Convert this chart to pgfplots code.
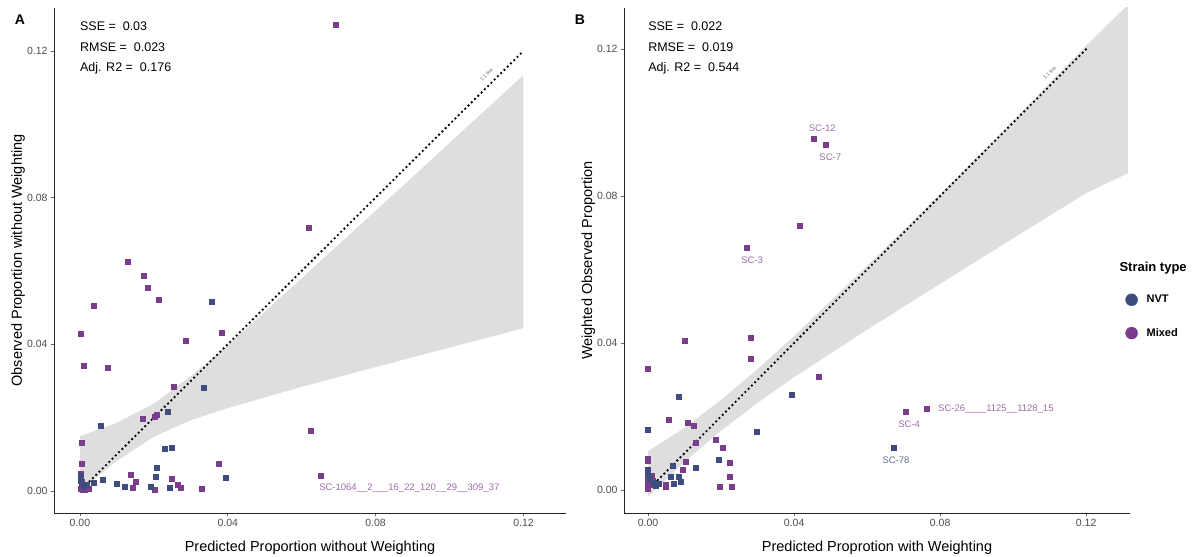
\documentclass[border=0pt]{standalone}
\usepackage{pgfplots}
\pgfplotsset{compat=1.18}
\usepackage{fontspec}
\setmainfont{Liberation Sans}

\definecolor{nvt}{HTML}{3E4C7E}
\definecolor{mixed}{HTML}{7A3D8C}
\definecolor{band}{HTML}{DEDEDE}

\pgfplotsset{
  panel/.style={
    scale only axis, height=505pt,
    axis x line=bottom, axis y line=left,
    axis line style={-, line width=0.9pt, black!85},
    tick align=outside, major tick length=3pt,
    tick style={black!60, line width=0.6pt},
    xtick={0,0.04,0.08,0.12}, xticklabels={0.00,0.04,0.08,0.12},
    ytick={0,0.04,0.08,0.12}, yticklabels={0.00,0.04,0.08,0.12},
    ticklabel style={font=\fontsize{10.5}{12}\selectfont, text=black!70},
    label style={font=\fontsize{14.5}{16}\selectfont},
    xlabel style={at={(axis description cs:0.5,-0.069)}, anchor=center},
    ylabel style={at={(axis description cs:-0.0703,0.5)}, anchor=center},
    /pgf/number format/assume math mode=true,
  },
  pts/.style={only marks, mark=square*, mark size=3pt, mark options={draw opacity=0}},
}
\tikzset{
  oneone/.style={black, line width=2.6pt, line cap=round, dash pattern=on 0pt off 4.6pt},
  stat/.style={anchor=west, inner sep=0pt, font=\fontsize{12.5}{15}\selectfont},
  lab/.style={font=\fontsize{9.5}{11}\selectfont},
  onelab/.style={rotate=45, anchor=south, font=\fontsize{5}{6}\selectfont, text=black!60},
}

\begin{document}
\begin{tikzpicture}
\useasboundingbox (0,0) rectangle (1203pt,557pt);

% ---------------- panel A ----------------
\begin{axis}[panel, at={(54pt,44pt)}, anchor=south west, width=512pt,
  xmin=-0.007, xmax=0.1315, ymin=-0.006, ymax=0.1317,
  xlabel={Predicted Proportion without Weighting},
  ylabel={Observed Proportion without Weighting}]
\addplot[fill=band, draw=none] coordinates {
  (0,0.0149) (0.01,0.0186) (0.02,0.0238) (0.03,0.0313) (0.04,0.0398)
  (0.06,0.0580) (0.08,0.0764) (0.10,0.0949) (0.12,0.1134)
  (0.12,0.0444) (0.10,0.0391) (0.08,0.0338) (0.06,0.0284) (0.04,0.0226)
  (0.03,0.0193) (0.02,0.0148) (0.01,0.0082) (0,-0.0001)} -- cycle;
\addplot[oneone] coordinates {(0,0) (0.12,0.12)};
\addplot[pts, color=mixed] coordinates {
  (0.0694,0.1270) (0.0621,0.0717) (0.0131,0.0624) (0.0174,0.0586)
  (0.0185,0.0553) (0.0213,0.0522) (0.0037,0.0505) (0.0003,0.0428)
  (0.0384,0.0432) (0.0287,0.0410) (0.0012,0.0340) (0.0076,0.0335)
  (0.0255,0.0284) (0.0170,0.0195) (0.0202,0.0203) (0.0208,0.0207)
  (0.0626,0.0164) (0.0005,0.0132) (0.0005,0.0074) (0.0139,0.0044)
  (0.0375,0.0074) (0.0152,0.0024) (0.0145,0.0008) (0.0204,0.0003)
  (0.0250,0.0034) (0.0265,0.0016) (0.0273,0.0009) (0.0330,0.0005)
  (0.0651,0.0041) (0.0003,0.0045) (0.0004,0.0035) (0.0005,0.0025)
  (0.0006,0.0015) (0.0004,0.0005) (0.0015,0.0004) (0.0025,0.0006)
  (0.0008,0.0002)};
\addplot[pts, color=nvt] coordinates {
  (0.0357,0.0516) (0.0335,0.0282) (0.0057,0.0176) (0.0238,0.0216)
  (0.0230,0.0115) (0.0250,0.0117) (0.0208,0.0062) (0.0205,0.0039)
  (0.0395,0.0035) (0.0037,0.0023) (0.0063,0.0030) (0.0100,0.0018)
  (0.0123,0.0011) (0.0193,0.0012) (0.0243,0.0007) (0.0003,0.0040)
  (0.0002,0.0028) (0.0010,0.0012) (0.0020,0.0015)};
\node[stat] at (axis cs:0,0.1268) {SSE = \ 0.03};
\node[stat] at (axis cs:0,0.1209) {RMSE = \ 0.023};
\node[stat] at (axis cs:0,0.1153) {Adj. R2 = \ 0.176};
\node[onelab] at (axis cs:0.111,0.1125) {1:1 line};
\node[lab, anchor=west, text=mixed!75!white] at (axis cs:0.0638,0.0007)
  {SC-1064\_\_2\_\_\_16\_22\_120\_\_29\_\_309\_37};
\end{axis}

% ---------------- panel B ----------------
\begin{axis}[panel, at={(624pt,44pt)}, anchor=south west, width=506pt,
  xmin=-0.0066, xmax=0.132, ymin=-0.0063, ymax=0.1312,
  xlabel={Predicted Proprotion with Weighting},
  ylabel={Weighted Observed Proportion},
  legend style={draw=none, fill=none, at={(axis description cs:0.985,0.389)},
    anchor=west, font=\bfseries\fontsize{11}{13}\selectfont, row sep=20pt,
    /tikz/every odd column/.append style={column sep=7pt}},
  legend cell align=left]
\addplot[fill=band, draw=none, forget plot] coordinates {
  (0,0.0105) (0.01,0.0169) (0.02,0.0245) (0.03,0.0329) (0.04,0.0419)
  (0.06,0.0610) (0.08,0.0805) (0.10,0.1005) (0.12,0.1210) (0.1314,0.1320)
  (0.1314,0.0862) (0.12,0.0808) (0.10,0.0685) (0.08,0.0561) (0.06,0.0436)
  (0.04,0.0307) (0.03,0.0237) (0.02,0.0161) (0.01,0.0077) (0,-0.0019)} -- cycle;
\addplot[oneone, forget plot] coordinates {(0,0) (0.12,0.12)};
\addplot[pts, color=mixed, forget plot] coordinates {
  (0.0455,0.0956) (0.0488,0.0940) (0.0416,0.0719) (0.0271,0.0659)
  (0.0100,0.0405) (0.0282,0.0414) (0.0282,0.0356) (0.0000,0.0330)
  (0.0469,0.0307) (0.0765,0.0220) (0.0707,0.0212) (0.0058,0.0189)
  (0.0108,0.0183) (0.0127,0.0175) (0.0132,0.0128) (0.0185,0.0137)
  (0.0204,0.0113) (0.0225,0.0074) (0.0000,0.0083) (0.0000,0.0078)
  (0.0105,0.0076) (0.0096,0.0053) (0.0224,0.0034) (0.0198,0.0008)
  (0.0231,0.0008) (0.0049,0.0008) (0.0049,0.0014) (0.0000,0.0040)
  (0.0000,0.0030) (0.0000,0.0020) (0.0000,0.0010) (0.0000,0.0002)
  (0.0010,0.0038) (0.0013,0.0025) (0.0008,0.0012)};
\addplot[pts, color=nvt, forget plot] coordinates {
  (0.0086,0.0252) (0.0394,0.0259) (0.0000,0.0163) (0.0299,0.0157)
  (0.0195,0.0081) (0.0068,0.0066) (0.0132,0.0059) (0.0062,0.0036)
  (0.0084,0.0034) (0.0090,0.0021) (0.0070,0.0016) (0.0022,0.0011)
  (0.0030,0.0017) (0.0674,0.0114) (0.0000,0.0055) (0.0000,0.0045)
  (0.0005,0.0030) (0.0015,0.0020)};
\addlegendimage{only marks, mark=*, mark size=6pt, color=nvt}
\addlegendentry{NVT}
\addlegendimage{only marks, mark=*, mark size=6pt, color=mixed}
\addlegendentry{Mixed}
\node[stat] at (axis cs:0,0.1262) {SSE = \ 0.022};
\node[stat] at (axis cs:0,0.1204) {RMSE = \ 0.019};
\node[stat] at (axis cs:0,0.1148) {Adj. R2 = \ 0.544};
\node[onelab] at (axis cs:0.111,0.1125) {1:1 line};
\node[lab, text=mixed!75!white] at (axis cs:0.0477,0.0985) {SC-12};
\node[lab, text=mixed!75!white] at (axis cs:0.0499,0.0906) {SC-7};
\node[lab, text=mixed!75!white] at (axis cs:0.0285,0.0626) {SC-3};
\node[lab, anchor=west, text=mixed!75!white] at (axis cs:0.0785,0.0220)
  {SC-26\_\_\_\_1125\_\_1128\_15};
\node[lab, text=mixed!75!white] at (axis cs:0.0715,0.0180) {SC-4};
\node[lab, text=nvt!80!white] at (axis cs:0.0679,0.0082) {SC-78};
\end{axis}

\node[font=\bfseries\fontsize{14}{16}\selectfont] at (20pt,537pt) {A};
\node[font=\bfseries\fontsize{14}{16}\selectfont] at (580pt,537pt) {B};
\node[anchor=west, font=\bfseries\fontsize{13}{15}\selectfont] at (1116pt,289pt) {Strain type};
\end{tikzpicture}
\end{document}
